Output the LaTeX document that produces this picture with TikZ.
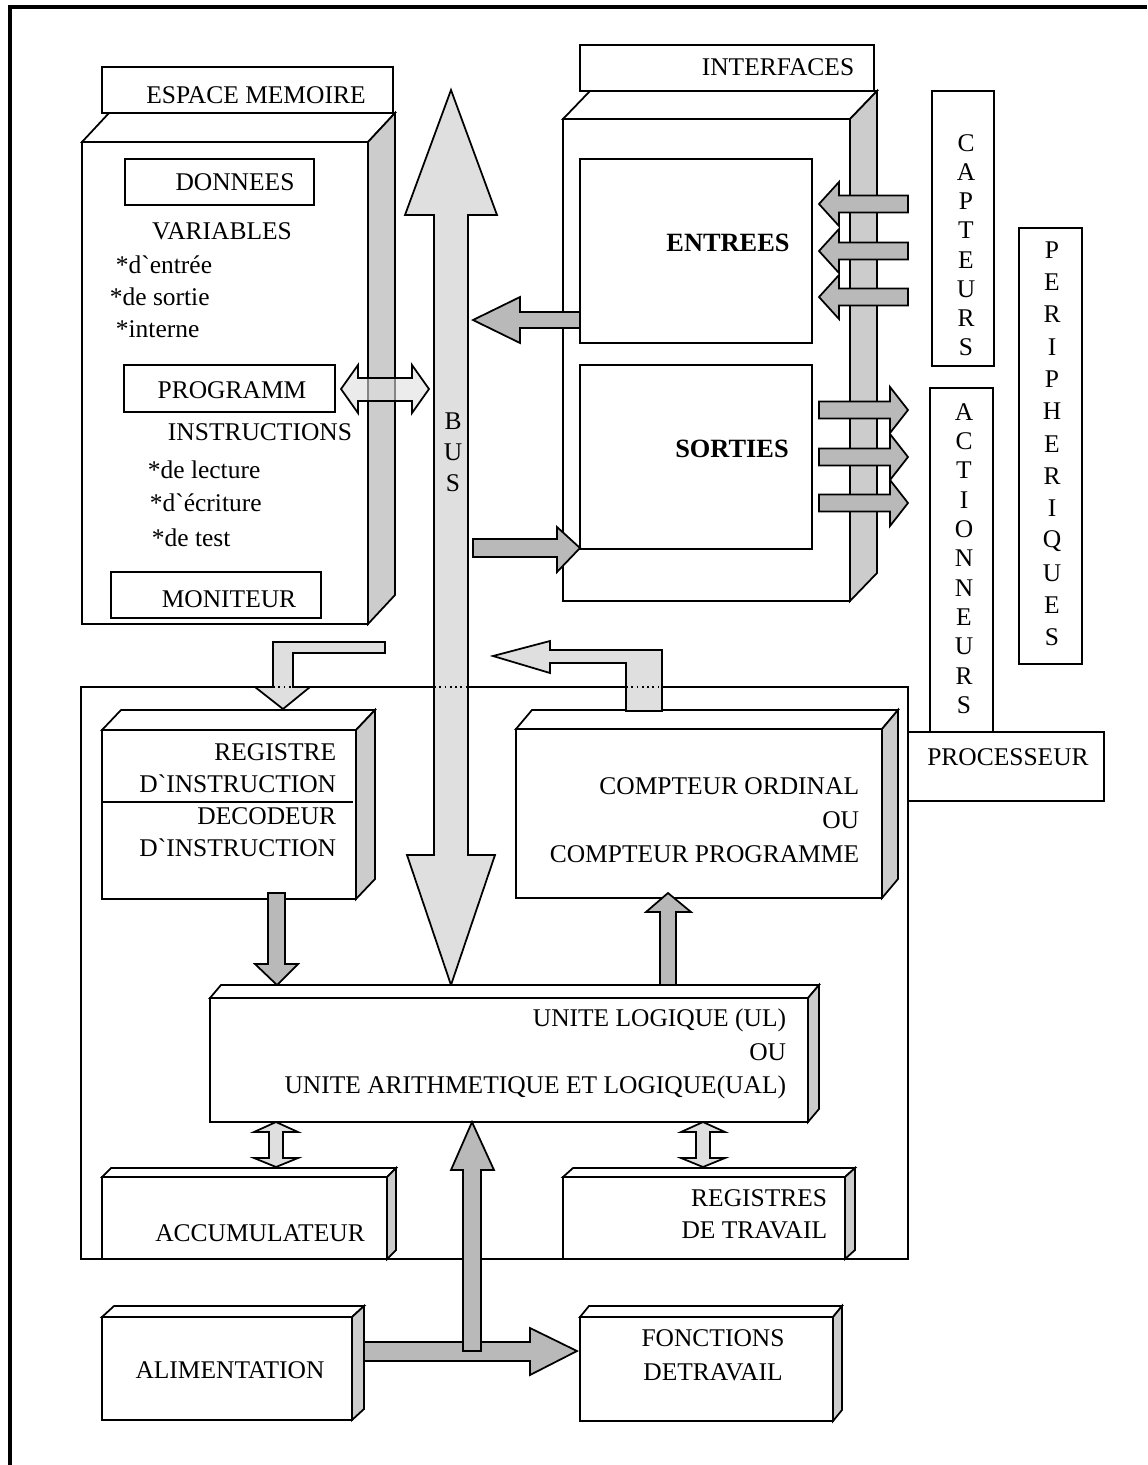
\documentclass[tikz,border=0pt]{standalone}
\usepackage{fontspec}
\setmainfont{Liberation Serif}
\usetikzlibrary{calc}

% 3D box: x1, y1 (top), x2, y2 (bottom), depth dx, dy
\newcommand{\boite}[6]{%
  \draw[fill=white] (#1,#2) -- ({#1+#5},{#2-#6}) -- ({#3+#5},{#2-#6}) -- (#3,#2) -- cycle;
  \draw[fill=gray!40] (#3,#2) -- ({#3+#5},{#2-#6}) -- ({#3+#5},{#4-#6}) -- (#3,#4) -- cycle;
  \draw[fill=white] (#1,#2) rectangle (#3,#4);
}

\begin{document}
\begin{tikzpicture}[x=0.02cm,y=-0.02cm,line width=1pt,
  txt/.style={font=\fontsize{14.5}{18.3}\selectfont,inner sep=0pt},
  gras/.style={txt,font=\fontsize{15}{18}\selectfont\bfseries},
  plein/.style={draw,fill=gray!55},
  trame/.style={draw,fill=gray!25}]

  \useasboundingbox (0,0) rectangle (1147,1465);

  % cadre
  \draw[line width=2.4pt] (10,1465) -- (10,7) -- (1147,7);

  % processeur
  \draw (81,687) rectangle (908,1259);
  \draw (908,732) rectangle (1104,801);
  \node[txt] (proc) at (1008,757) {PROCESSEUR};

  % espace memoire
  \boite{82}{142}{368}{624}{27}{29}
  \draw[fill=white] (102,67) rectangle (393,113);
  \node[txt] (espace) at (256,95) {ESPACE MEMOIRE};
  \draw (125,159) rectangle (314,205);
  \node[txt] (donnees) at (235,182) {DONNEES};
  \node[txt] (variables) at (222,231) {VARIABLES};
  \foreach \x/\y/\mot [count=\i] in {115/265/{*d\textasciigrave entrée},109/297/{*de sortie},115/329/{*interne}}
    \node[txt,anchor=west] (var\i) at (\x,\y) {\mot};
  \draw (124,365) rectangle (335,412);
  \node[txt] (programm) at (232,390) {PROGRAMM};
  \node[txt] (instr) at (260,432) {INSTRUCTIONS};
  \foreach \x/\y/\mot [count=\i] in {147/470/{*de lecture},149/503/{*d\textasciigrave écriture},151/538/{*de test}}
    \node[txt,anchor=west] (ins\i) at (\x,\y) {\mot};
  \draw (111,572) rectangle (321,618);
  \node[txt] (moniteur) at (229,599) {MONITEUR};

  % interfaces
  \boite{563}{119}{850}{601}{27}{28}
  \draw[fill=white] (580,45) rectangle (874,91);
  \node[txt] (interfaces) at (778,67) {INTERFACES};
  \draw (580,159) rectangle (812,343);
  \node[gras] (entrees) at (728,243) {ENTREES};
  \draw (580,365) rectangle (812,549);
  \node[gras] (sorties) at (732,449) {SORTIES};

  % capteurs, actionneurs, peripheriques
  \draw (932,91) rectangle (994,366);
  \foreach \c [count=\i] in {C,A,P,T,E,U,R,S}
    \node[txt] (cap\i) at (966,{143+29.2*(\i-1)}) {\c};
  \draw (930,388) rectangle (993,732);
  \foreach \c [count=\i] in {A,C,T,I,O,N,N,E,U,R,S}
    \node[txt] (act\i) at (964,{412+29.3*(\i-1)}) {\c};
  \draw (1019,228) rectangle (1082,664);
  \foreach \c [count=\i] in {P,E,R,I,P,H,E,R,I,Q,U,E,S}
    \node[txt] (per\i) at (1052,{250+32.3*(\i-1)}) {\c};

  % fleches capteurs -> entrees
  \foreach \y in {204,251,297}
    \draw[plein] (908,{\y-8.5}) -- (839,{\y-8.5}) -- (839,{\y-22}) -- (819,\y)
      -- (839,{\y+22}) -- (839,{\y+8.5}) -- (908,{\y+8.5}) -- cycle;
  % fleches sorties -> actionneurs
  \foreach \y in {410,457,503}
    \draw[plein] (819,{\y-8.5}) -- (890,{\y-8.5}) -- (890,{\y-23}) -- (908,\y)
      -- (890,{\y+23}) -- (890,{\y+8.5}) -- (819,{\y+8.5}) -- cycle;

  % bus
  \draw[trame] (451,90) -- (497,215) -- (468,215) -- (468,855) -- (495,855) -- (451,985)
    -- (407,855) -- (434,855) -- (434,215) -- (405,215) -- cycle;
  \draw[dotted] (434,687) -- (468,687);
  \foreach \c/\y [count=\i] in {B/421,U/452,S/483}
    \node[txt] (bus\i) at (453,\y) {\c};

  % memoire <-> bus
  \draw[trame,fill opacity=0.6] (341,389) -- (358,365) -- (358,378) -- (412,378) -- (412,365)
    -- (429,389) -- (412,413) -- (412,401) -- (358,401) -- (358,413) -- cycle;

  % entrees -> bus, bus -> sorties
  \draw[plein] (580,312) -- (520,312) -- (520,297) -- (473,320) -- (520,343) -- (520,328) -- (580,328) -- cycle;
  \draw[plein] (473,539) -- (557,539) -- (557,527) -- (580,548) -- (557,572) -- (557,557) -- (473,557) -- cycle;

  % registre / decodeur d'instruction
  \boite{102}{730}{356}{899}{19}{20}
  \draw (102,802) -- (353,802);
  \node[txt,align=right,anchor=east] (reg) at (337,800)
    {REGISTRE\\D\textasciigrave INSTRUCTION\\DECODEUR\\D\textasciigrave INSTRUCTION};
  \draw[trame] (385,642) -- (385,653) -- (293,653) -- (293,687) -- (310,687) -- (283,709)
    -- (255,687) -- (273,687) -- (273,642) -- cycle;
  \draw[dotted] (273,687) -- (293,687);

  % compteur ordinal
  \boite{516}{729}{882}{898}{16}{19}
  \node[txt,align=right,anchor=east,font=\fontsize{14.5}{19.5}\selectfont] (compteur) at (860,820)
    {COMPTEUR ORDINAL\\OU\\COMPTEUR PROGRAMME};
  \draw[trame] (626,711) -- (626,663) -- (550,663) -- (550,673) -- (493,656) -- (550,641)
    -- (550,650) -- (662,650) -- (662,711) -- cycle;
  \draw[dotted] (626,687) -- (662,687);

  % unite logique
  \boite{210}{998}{808}{1122}{11}{13}
  \node[txt,align=right,anchor=east,font=\fontsize{14.5}{19.2}\selectfont] (ual) at (787,1054)
    {UNITE LOGIQUE (UL)\\OU\\UNITE ARITHMETIQUE ET LOGIQUE(UAL)};
  \draw[plein] (268,893) -- (285,893) -- (285,964) -- (298,964) -- (277,985) -- (255,964) -- (268,964) -- cycle;
  \draw[plein] (660,985) -- (660,912) -- (646,912) -- (668,893) -- (691,912) -- (676,912) -- (676,985) -- cycle;

  % accumulateur, registres de travail
  \boite{102}{1177}{387}{1259}{9}{9}
  \node[txt] (accu) at (260,1233) {ACCUMULATEUR};
  \boite{563}{1177}{845}{1259}{10}{9}
  \node[txt,align=right,anchor=east] (travail) at (828,1214) {REGISTRES\\DE TRAVAIL};
  \foreach \x in {276,703}
    \draw[trame] (\x,1122) -- ({\x+22},1132) -- ({\x+7},1132) -- ({\x+7},1158) -- ({\x+22},1158)
      -- (\x,1167) -- ({\x-22},1158) -- ({\x-7},1158) -- ({\x-7},1132) -- ({\x-22},1132) -- cycle;

  % alimentation, fonctions de travail
  \boite{102}{1317}{352}{1420}{12}{11}
  \node[txt] (alim) at (230,1370) {ALIMENTATION};
  \boite{580}{1317}{833}{1421}{9}{11}
  \node[txt,align=center,font=\fontsize{14.5}{19.5}\selectfont] (fonctions) at (713,1355) {FONCTIONS\\DETRAVAIL};
  \draw[plein] (364,1342) -- (530,1342) -- (530,1328) -- (577,1351) -- (530,1375) -- (530,1361) -- (364,1361) -- cycle;
  \draw[plein] (463,1351) -- (463,1170) -- (451,1170) -- (472,1122) -- (494,1170) -- (481,1170) -- (481,1351) -- cycle;
\end{tikzpicture}
\end{document}
